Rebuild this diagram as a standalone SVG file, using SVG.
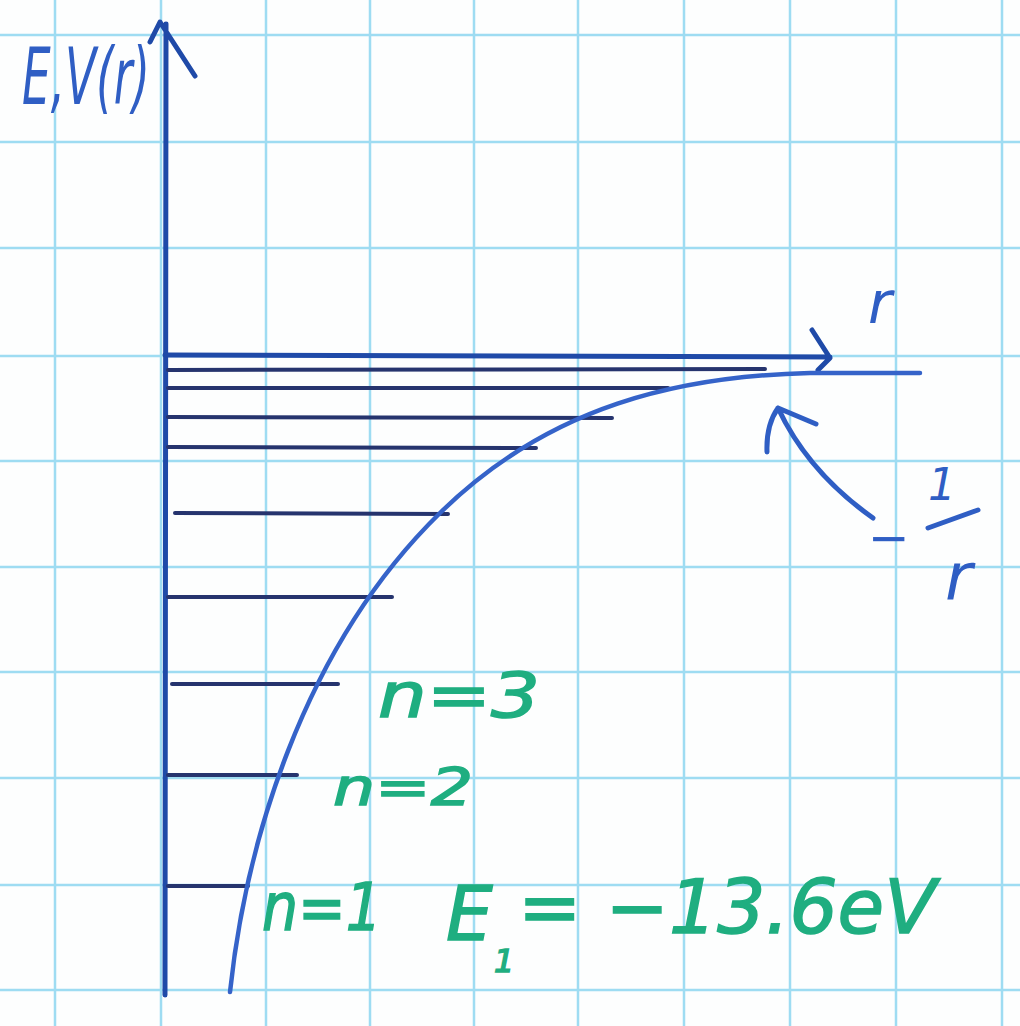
<svg xmlns="http://www.w3.org/2000/svg" width="1020" height="1026" viewBox="0 0 1020 1026">
<style>
.grid line{stroke:#9edcf2;stroke-width:2.5}
.axis{stroke:#1f4aa8;stroke-width:5;fill:none;stroke-linecap:round;stroke-linejoin:round}
.lvl{stroke:#26346e;stroke-width:4;stroke-linecap:round}
.curve{stroke:#3563c9;stroke-width:4.5;fill:none;stroke-linecap:round}
.ink{font-family:"DejaVu Sans",sans-serif;font-style:oblique;fill:#2f5ec4}
.green{font-family:"DejaVu Sans",sans-serif;font-style:oblique;fill:#1fae80;stroke:#1fae80;stroke-width:1.5}
</style>
<rect width="1020" height="1026" fill="#fdfefe"/>
<g class="grid">
<line x1="0" y1="35" x2="1020" y2="35"/><line x1="0" y1="142" x2="1020" y2="142"/><line x1="0" y1="248" x2="1020" y2="248"/><line x1="0" y1="356" x2="1020" y2="356"/><line x1="0" y1="461" x2="1020" y2="461"/><line x1="0" y1="567" x2="1020" y2="567"/><line x1="0" y1="672" x2="1020" y2="672"/><line x1="0" y1="778" x2="1020" y2="778"/><line x1="0" y1="885" x2="1020" y2="885"/><line x1="0" y1="990" x2="1020" y2="990"/>
<line x1="55" y1="0" x2="55" y2="1026"/><line x1="161" y1="0" x2="161" y2="1026"/><line x1="266" y1="0" x2="266" y2="1026"/><line x1="370" y1="0" x2="370" y2="1026"/><line x1="474" y1="0" x2="474" y2="1026"/><line x1="578" y1="0" x2="578" y2="1026"/><line x1="684" y1="0" x2="684" y2="1026"/><line x1="790" y1="0" x2="790" y2="1026"/><line x1="896" y1="0" x2="896" y2="1026"/><line x1="1002" y1="0" x2="1002" y2="1026"/>
</g>
<g id="connectors">
<path id="y-axis" class="axis" d="M165,995 L166,24 M150,42 L160,22 L195,76"/>
<path id="r-axis" class="axis" d="M165,355 L830,357 M812,330 L830,358 L818,370"/>
<path id="pointer" class="axis" style="stroke:#2f5ec4" d="M873,518 Q808,472 778,408 M767,452 Q766,425 778,408 L816,424"/>
</g>
<g id="levels">
<line class="lvl" x1="168" y1="370" x2="765" y2="369"/>
<line class="lvl" x1="168" y1="388" x2="668" y2="388"/>
<line class="lvl" x1="168" y1="417" x2="612" y2="418"/>
<line class="lvl" x1="168" y1="447" x2="536" y2="448"/>
<line class="lvl" x1="175" y1="513" x2="448" y2="514"/>
<line class="lvl" x1="168" y1="597" x2="392" y2="597"/>
<line class="lvl" x1="172" y1="684" x2="338" y2="684"/>
<line class="lvl" x1="168" y1="775" x2="297" y2="775"/>
<line class="lvl" x1="168" y1="886" x2="248" y2="886"/>
</g>
<g id="potential">
<path class="curve" d="M230,992 C245,850 300,650 440,513 C550,405 680,376 810,373 L920,373"/>
</g>
<g id="labels">
<text class="ink" x="22" y="104" font-size="78" textLength="128" lengthAdjust="spacingAndGlyphs">E,V(r)</text>
<text class="ink" x="868" y="323" font-size="58">r</text>
<text class="ink" x="868" y="555" font-size="50">−</text>
<text class="ink" x="928" y="500" font-size="44">1</text>
<line x1="928" y1="528" x2="978" y2="510" style="stroke:#2f5ec4;stroke-width:5;stroke-linecap:round"/>
<text class="ink" x="945" y="600" font-size="66">r</text>
<text class="green" x="378" y="717" font-size="62" textLength="162" lengthAdjust="spacingAndGlyphs">n=3</text>
<text class="green" x="333" y="805" font-size="52" textLength="140" lengthAdjust="spacingAndGlyphs">n=2</text>
<text class="green" x="262" y="930" font-size="66" textLength="120" lengthAdjust="spacingAndGlyphs">n=1</text>
<text class="green" x="446" y="940" font-size="74">E</text>
<text class="green" x="494" y="972" font-size="32">1</text>
<text class="green" x="518" y="933" font-size="74" textLength="418" lengthAdjust="spacingAndGlyphs">= −13.6eV</text>
</g>
</svg>
